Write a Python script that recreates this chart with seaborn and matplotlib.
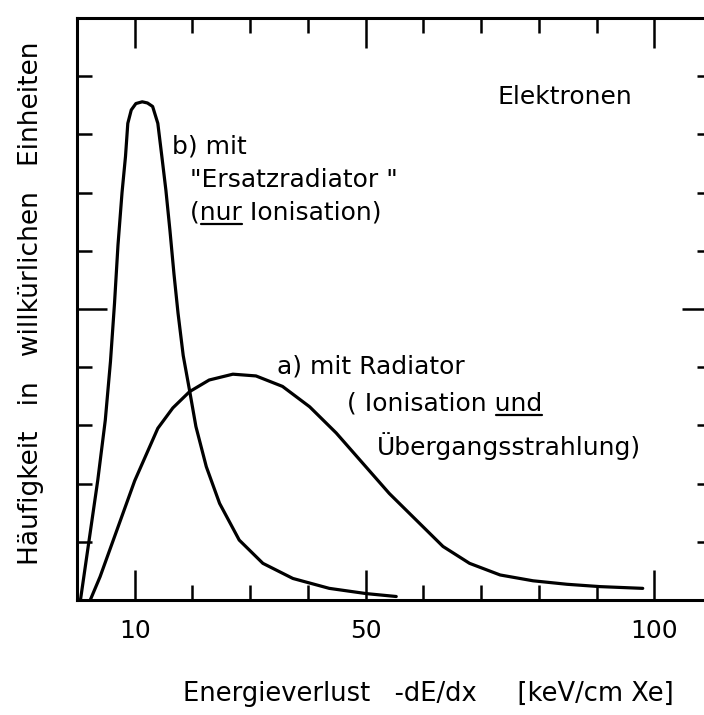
import matplotlib
matplotlib.use("Agg")
import matplotlib.pyplot as plt
import seaborn as sns
import pandas as pd
from matplotlib.ticker import FixedLocator, NullFormatter

# curve a) mit Radiator (Ionisation und Übergangsstrahlung)
a_x = [2.3, 4.0, 6.0, 8.0, 10.0, 12.0, 14.0, 16.6, 19.5, 22.9, 27.0, 31.0,
       35.6, 40.3, 44.9, 49.5, 54.1, 58.8, 63.4, 68.0, 73.3, 79.0, 84.9,
       90.6, 98.0]
a_y = [0.0, 0.4, 0.95, 1.5, 2.05, 2.5, 2.95, 3.3, 3.58, 3.78, 3.88, 3.85,
       3.67, 3.32, 2.87, 2.35, 1.83, 1.37, 0.92, 0.63, 0.43, 0.33, 0.27,
       0.23, 0.2]

# curve b) mit "Ersatzradiator" (nur Ionisation)
b_x = [0.6, 2.1, 3.6, 4.9, 5.8, 6.5, 7.1, 7.8, 8.4, 8.8, 9.4, 10.2, 11.3,
       12.2, 13.1, 14.0, 14.7, 15.4, 16.1, 16.8, 17.5, 18.4, 19.5, 20.6,
       22.4, 24.7, 28.1, 32.2, 37.4, 43.7, 50.1, 55.3]
b_y = [0.0, 1.03, 2.06, 3.09, 4.1, 5.1, 6.1, 7.0, 7.62, 8.19, 8.42, 8.53, 8.56,
       8.54, 8.48, 8.19, 7.62, 7.04, 6.35, 5.6, 4.93, 4.2, 3.6, 2.98,
       2.29, 1.66, 1.03, 0.63, 0.37, 0.2, 0.11, 0.06]

x_major = [10, 50, 100]
x_minor = [20, 30, 40, 60, 70, 80, 90]
y_major = [5]
y_minor = [1, 2, 3, 4, 6, 7, 8, 9]

sns.set_theme(style="ticks")
plt.rcParams["font.family"] = ["DejaVu Sans"]
plt.rcParams["text.color"] = "black"
plt.rcParams["axes.labelcolor"] = "black"
plt.rcParams["xtick.color"] = "black"
plt.rcParams["ytick.color"] = "black"

df = pd.concat([
    pd.DataFrame({"x": a_x, "y": a_y, "kurve": "a"}),
    pd.DataFrame({"x": b_x, "y": b_y, "kurve": "b"}),
])

fig = plt.figure(figsize=(7.04, 7.15), dpi=100)
ax = fig.add_axes([77 / 704, 115 / 715, 635 / 704, 582 / 715])

sns.lineplot(data=df, x="x", y="y", units="kurve", estimator=None,
             color="black", linewidth=2.3, ax=ax, legend=False)

ax.set_xlim(0, 110)
ax.set_ylim(0, 10)

for side in ax.spines.values():
    side.set_color("black")
    side.set_linewidth(2.2)

ax.xaxis.set_major_locator(FixedLocator(x_major))
ax.xaxis.set_minor_locator(FixedLocator(x_minor))
ax.yaxis.set_major_locator(FixedLocator(y_major))
ax.yaxis.set_minor_locator(FixedLocator(y_minor))
ax.yaxis.set_major_formatter(NullFormatter())
ax.set_xticklabels([str(v) for v in x_major])

ax.tick_params(which="both", direction="in", top=True, right=True,
               color="black", width=1.8)
ax.tick_params(which="major", length=21.5, labelsize=18, pad=14)
ax.tick_params(which="minor", length=10.5)
ax.tick_params(axis="y", labelleft=False)

ax.set_xlabel("Energieverlust   -dE/dx     [keV/cm Xe]", fontsize=18.5)
ax.set_ylabel("Häufigkeit   in   willkürlichen   Einheiten", fontsize=19)
ax.xaxis.set_label_coords(0.553, -0.14)
ax.yaxis.set_label_coords(-0.052, 0.51)

txt = dict(fontsize=18, color="black", va="center", ha="left")


def underlined(x, y, prefix, word, rest):
    # whole line as one text, then a rule drawn under `word`
    ax.text(x, y, prefix + word + rest, **txt)
    r = fig.canvas.get_renderer()
    probe = ax.text(x, y, prefix, **txt)
    x0 = probe.get_window_extent(r).x1
    probe.set_text(prefix + word)
    ext = probe.get_window_extent(r)
    probe.remove()
    inv = ax.transAxes.inverted()
    (u0, v0), (u1, _) = inv.transform([(x0 + 1, ext.y0 + 1), (ext.x1, ext.y0)])
    ax.plot([u0, u1], [v0, v0], transform=ax.transAxes, color="black",
            linewidth=1.6, clip_on=False)


ax.text(72.8, 8.64, "Elektronen", **txt)
ax.text(16.5, 7.8, "b) mit", **txt)
ax.text(19.6, 7.22, "\"Ersatzradiator \"", **txt)
underlined(19.6, 6.65, "(", "nur", " Ionisation)")
ax.text(34.7, 4.02, "a) mit Radiator", **txt)
underlined(46.8, 3.37, "( Ionisation ", "und", "")
ax.text(52.0, 2.65, "Übergangsstrahlung)", **txt)

fig.savefig("out.png", dpi=100)
